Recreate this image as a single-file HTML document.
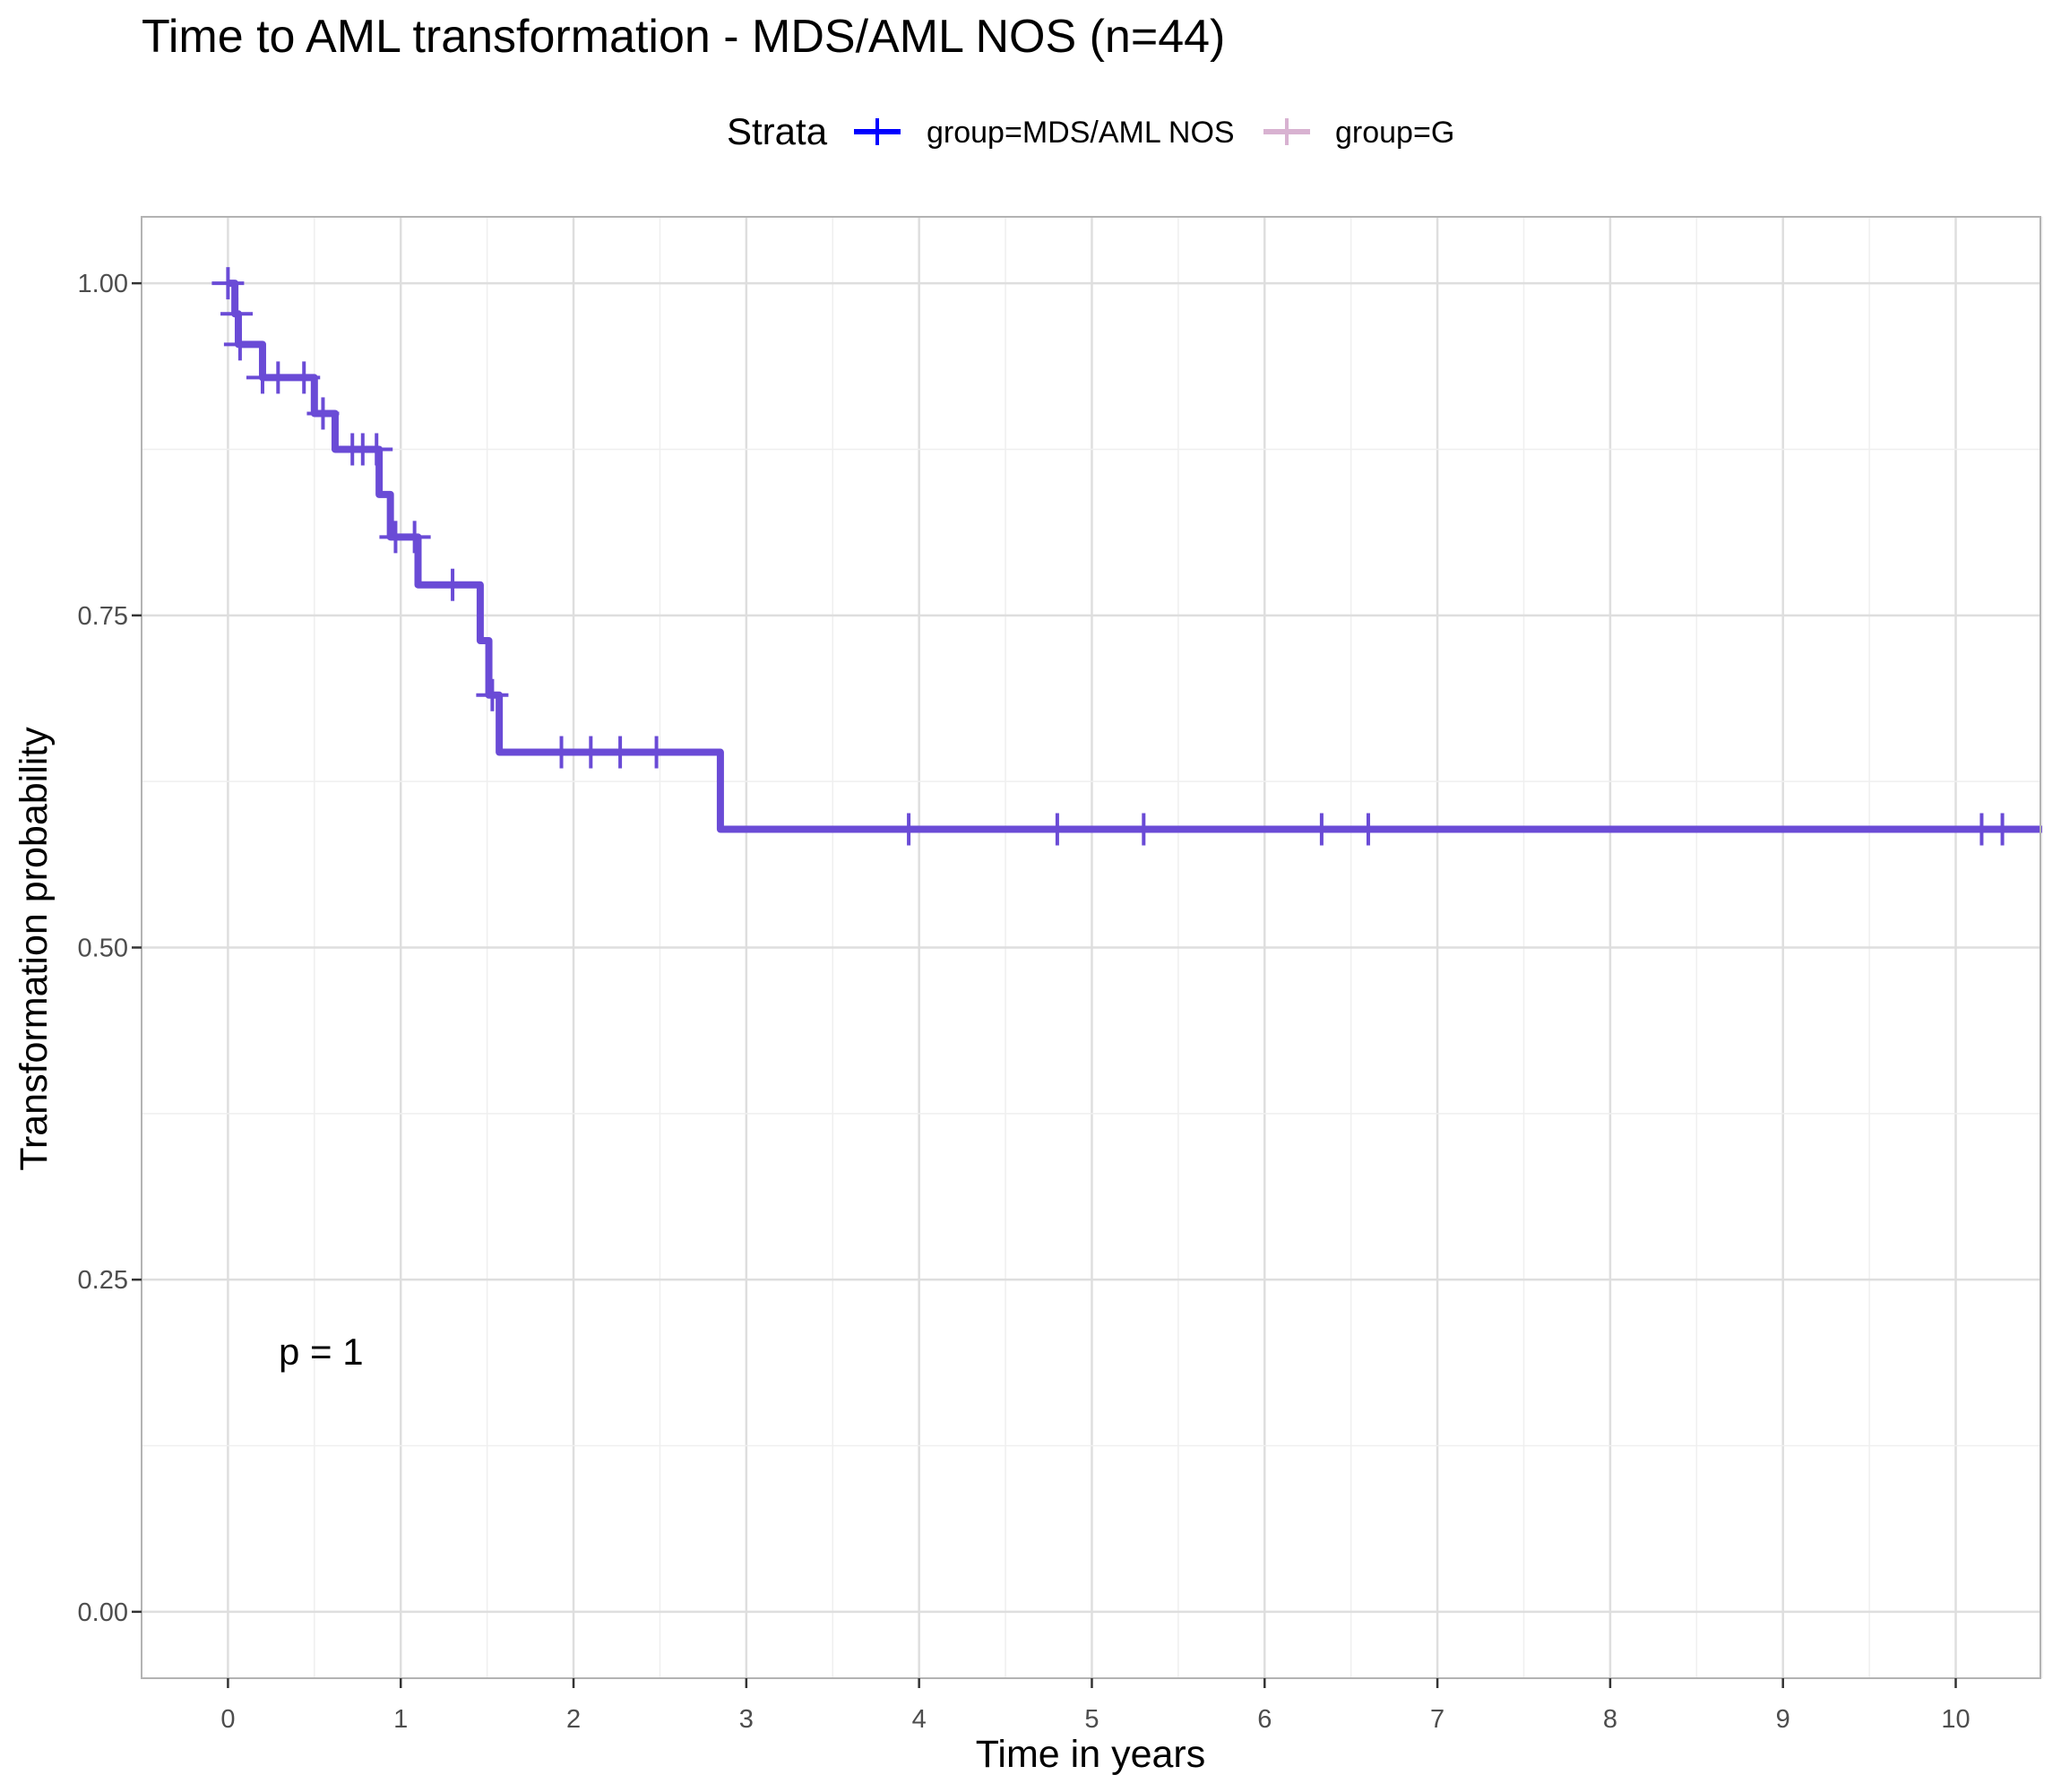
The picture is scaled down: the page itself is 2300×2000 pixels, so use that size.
<!DOCTYPE html>
<html><head><meta charset="utf-8"><style>
body{margin:0;background:#fff}
svg{display:block;font-family:"Liberation Sans",Arial,sans-serif}
</style></head><body>
<svg id="chart" width="2300" height="2000" xmlns="http://www.w3.org/2000/svg">
<text x="158" y="58" font-size="52" fill="#000">Time to AML transformation - MDS/AML NOS (n=44)</text>
<g>
<text x="811" y="161" font-size="42" fill="#000">Strata</text>
<g>
<line x1="953" y1="147" x2="1005" y2="147" stroke="#0000ff" stroke-width="6"/>
<line x1="979" y1="132" x2="979" y2="162" stroke="#0000ff" stroke-width="4"/>
<text x="1034" y="159" font-size="34" fill="#000">group=MDS/AML NOS</text></g>
<g>
<line x1="1410" y1="147" x2="1462" y2="147" stroke="#d8b2d1" stroke-width="6"/>
<line x1="1436" y1="132" x2="1436" y2="162" stroke="#d8b2d1" stroke-width="4"/>
<text x="1490" y="159" font-size="34" fill="#000">group=G</text></g>
</g>
<g id="grid"></g>
<g id="marks"></g>
<rect x="158" y="242" width="2119" height="1631" fill="none" stroke="#b3b3b3" stroke-width="2"/>
<g id="axes"></g>
<text x="311" y="1523" font-size="42" fill="#000">p = 1</text>
<text x="1217" y="1972" font-size="43" text-anchor="middle" fill="#000">Time in years</text>
<text transform="translate(52,1059) rotate(-90)" font-size="43" text-anchor="middle" fill="#000">Transformation probability</text>
</svg>
<script>
const xTicks=[0,1,2,3,4,5,6,7,8,9,10];
const yTicks=[0,0.25,0.5,0.75,1.0];
const yTickLabels=["0.00","0.25","0.50","0.75","1.00"];
const stepTimes=[0,0.04,0.06,0.2,0.5,0.62,0.875,0.94,1.1,1.46,1.51,1.57,2.85];
const stepSurv=[1.0,0.977,0.954,0.929,0.902,0.875,0.841,0.809,0.773,0.731,0.690,0.647,0.589];
const endTime=10.5;
const censorTimes=[0.0,0.05,0.07,0.2,0.29,0.44,0.55,0.72,0.78,0.86,0.97,1.08,1.3,1.53,1.93,2.1,2.27,2.48,3.94,4.8,5.3,6.33,6.6,10.15,10.27];
const censorSurv=[1.0,0.977,0.954,0.929,0.929,0.929,0.902,0.875,0.875,0.875,0.809,0.809,0.773,0.690,0.647,0.647,0.647,0.647,0.589,0.589,0.589,0.589,0.589,0.589,0.589];
const X0=158,X1=2277,Y0=242,Y1=1873,xmin=-0.5,xmax=10.49,ymin=-0.05,ymax=1.05;
const sx=v=>X0+(v-xmin)/(xmax-xmin)*(X1-X0);
const sy=v=>Y1-(v-ymin)/(ymax-ymin)*(Y1-Y0);
const NS="http://www.w3.org/2000/svg";
function mk(p,t,a){const e=document.createElementNS(NS,t);for(const k in a)e.setAttribute(k,a[k]);p.appendChild(e);return e;}
const grid=document.getElementById('grid'),marks=document.getElementById('marks'),axes=document.getElementById('axes');
for(let v=-0.5;v<=10.5;v+=0.5){const l=mk(grid,'line',{x1:sx(v),x2:sx(v),y1:Y0,y2:Y1,stroke:Number.isInteger(v)?'#dedede':'#efefef','stroke-width':Number.isInteger(v)?2.5:1.5});

}
for(let v=0;v<=1.0001;v+=0.125){const maj=Math.abs(v*4-Math.round(v*4))<1e-6;const l=mk(grid,'line',{x1:X0,x2:X1,y1:sy(v),y2:sy(v),stroke:maj?'#dedede':'#efefef','stroke-width':maj?2.5:1.5});

}
let d='M'+sx(stepTimes[0])+','+sy(stepSurv[0]);
for(let i=1;i<stepTimes.length;i++){d+=' H'+sx(stepTimes[i])+' V'+sy(stepSurv[i]);}
d+=' H'+sx(endTime);
const path=mk(marks,'path',{d:d,fill:'none',stroke:'#6a4bd6','stroke-width':8,'stroke-linejoin':'round'});


censorTimes.forEach((t,i)=>{const x=sx(t),y=sy(censorSurv[i]);
const g=mk(marks,'g',{});


mk(g,'line',{x1:x,x2:x,y1:y-18,y2:y+18,stroke:'#6a4bd6','stroke-width':4});
mk(g,'line',{x1:x-18,x2:x+18,y1:y,y2:y,stroke:'#6a4bd6','stroke-width':4});});
xTicks.forEach(v=>{const x=sx(v);mk(axes,'line',{x1:x,x2:x,y1:Y1,y2:Y1+11,stroke:'#333','stroke-width':2.5});
const t=mk(axes,'text',{x:x,y:1928,'font-size':29,'text-anchor':'middle',fill:'#4d4d4d'});t.textContent=v;

});
yTicks.forEach((v,i)=>{const y=sy(v);mk(axes,'line',{x1:X0-11,x2:X0,y1:y,y2:y,stroke:'#333','stroke-width':2.5});
const t=mk(axes,'text',{x:143,y:y+10,'font-size':29,'text-anchor':'end',fill:'#4d4d4d'});t.textContent=yTickLabels[i];

});
</script>
</body></html>
